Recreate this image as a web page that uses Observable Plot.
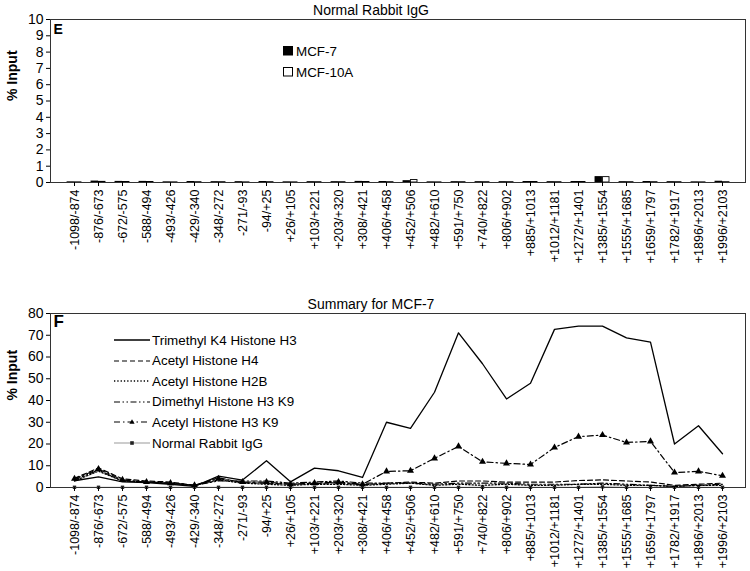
<!DOCTYPE html>
<html><head><meta charset="utf-8">
<script src="https://cdn.jsdelivr.net/npm/d3@7"></script>
<script src="https://cdn.jsdelivr.net/npm/@observablehq/plot@0.6"></script>
<style>
body{margin:0;background:#fff;font-family:"Liberation Sans",Arial,sans-serif;}
#wrap{position:relative;width:750px;height:571px;overflow:hidden;background:#fff;}
#wrap svg.plot{display:block;}
.lg{position:absolute;height:16px;display:flex;align-items:center;font-size:13.4px;color:#000;white-space:nowrap;}
.lg svg{display:block;margin-right:1px;}
</style></head><body><div id="wrap"></div>
<script>
// ---------- data ----------
const categories = ["-1098/-874","-876/-673","-672/-575","-588/-494","-493/-426","-429/-340","-348/-272","-271/-93","-94/+25","+26/+105","+103/+221","+203/+320","+308/+421","+406/+458","+452/+506","+482/+610","+591/+750","+740/+822","+806/+902","+885/+1013","+1012/+1181","+1272/+1401","+1385/+1554","+1555/+1685","+1659/+1797","+1782/+1917","+1896/+2013","+1996/+2103"];

// Panel E: Normal Rabbit IgG (% input)
const mcf7   = [0.01,0.06,0.04,0.04,0.01,0.03,0.02,0.02,0.03,0.01,0.02,0.02,0.04,0.03,0.08,0.01,0.02,0.02,0.02,0.03,0.02,0.03,0.33,0.02,0.03,0.02,0.01,0.05];
const mcf10a = [0.01,0.04,0.03,0.03,0.01,0.02,0.02,0.01,0.02,0.01,0.02,0.02,0.03,0.02,0.15,0.01,0.02,0.02,0.02,0.03,0.02,0.03,0.33,0.02,0.02,0.02,0.01,0.02];
const yTicksE = [0,1,2,3,4,5,6,7,8,9,10];

// Panel F: Summary for MCF-7 (% input)
const trimethylK4H3 = [3.1,4.9,2.6,2.3,1.5,0.5,5.2,3.4,12.3,2.6,8.9,7.7,4.6,30.0,27.2,43.8,71.1,56.9,40.7,47.9,72.7,74.2,74.2,68.8,66.8,20.0,28.4,15.5];
const acetylH4      = [4.2,9.0,4.0,3.0,2.5,1.0,4.5,2.2,2.0,1.5,1.8,2.2,1.2,2.0,2.5,2.0,3.0,3.0,2.5,2.5,2.5,3.2,3.5,3.0,2.5,1.0,1.5,2.0];
const acetylH2B     = [3.0,7.5,3.0,2.5,2.0,1.0,3.5,2.0,1.5,1.0,1.5,1.5,1.0,1.5,2.0,1.0,1.5,1.0,1.5,1.0,1.0,1.5,1.5,1.0,1.0,0.5,1.0,1.0];
const dimethylH3K9  = [3.5,8.0,3.0,2.5,2.0,1.0,3.0,3.0,3.0,2.0,2.5,3.0,2.0,2.0,2.0,1.5,2.0,2.0,2.0,1.5,1.5,1.5,2.0,1.5,1.0,0.5,1.0,1.5];
const acetylH3K9    = [4.0,8.5,3.5,2.5,2.0,1.0,4.0,2.5,2.5,1.5,2.0,2.5,1.5,7.4,7.7,13.4,18.9,11.8,11.1,10.6,18.4,23.4,24.1,20.7,21.2,6.9,7.4,5.4];
const normalIgG     = [0.1,0.1,0.1,0.1,0.1,0.1,0.1,0.1,0.1,0.1,0.1,0.1,0.1,0.1,0.1,0.1,0.1,0.1,0.1,0.1,0.1,0.1,0.3,0.1,0.1,0.1,0.1,0.1];
const yTicksF = [0,10,20,30,40,50,60,70,80];

const seriesNames = ["Trimethyl K4 Histone H3","Acetyl Histone H4","Acetyl Histone H2B","Dimethyl Histone H3 K9","Acetyl Histone H3 K9","Normal Rabbit IgG"];
const seriesValues = [trimethylK4H3, acetylH4, acetylH2B, dimethylH3K9, acetylH3K9, normalIgG];

// ---------- styles ----------
const FONT = "'Liberation Sans', Arial, Helvetica, sans-serif";
const seriesStyle = [
  {stroke:"#000", width:1.3, dash:null, symbol:null},
  {stroke:"#000", width:1.2, dash:"5,3", symbol:null},
  {stroke:"#000", width:1.3, dash:"1.3,2", symbol:null},
  {stroke:"#000", width:1.2, dash:"6,2.5,1.5,2.5,1.5,2.5", symbol:null},
  {stroke:"#000", width:1.2, dash:"6,3,1.5,3", symbol:"triangle"},
  {stroke:"#999", width:1, dash:null, symbol:"square"}
];

const wrap = document.getElementById("wrap");

// ---------- Panel E ----------
const barsE7  = categories.map((c,i) => ({cat:c, v:mcf7[i]}));
const barsE10 = categories.map((c,i) => ({cat:c, v:mcf10a[i]}));

const chartE = Plot.plot({
  width: 750, height: 270,
  marginLeft: 50, marginRight: 5, marginTop: 19, marginBottom: 88,
  style: {fontFamily: FONT, fontSize: "14px", color: "#000", background: "#fff", overflow: "visible"},
  x: {type: "band", domain: categories, padding: 0, axis: null},
  y: {domain: [0, 10], axis: null},
  marks: [
    Plot.barY(barsE7,  {x:"cat", y:"v", fill:"#000", stroke:"#000", strokeWidth:0.9, insetLeft:5, insetRight:12.4}),
    Plot.barY(barsE10, {x:"cat", y:"v", fill:"#fff", stroke:"#000", strokeWidth:0.9, insetLeft:12.4, insetRight:5}),
    Plot.frame({stroke:"#333", strokeWidth:1}),
    Plot.axisX({tickRotate:-90, fontSize:12.5, tickSize:4, tickPadding:3, label:null}),
    Plot.axisY({ticks:yTicksE, tickSize:4, tickPadding:3, fontSize:14, label:null}),
    Plot.text(["% Input"], {text:d=>d, frameAnchor:"left", dx:-38, rotate:-90, fontWeight:"bold", fontSize:14}),
    Plot.text(["Normal Rabbit IgG"], {text:d=>d, frameAnchor:"top", lineAnchor:"bottom", dy:-5, dx:-27, fontSize:14}),
    Plot.text(["E"], {text:d=>d, frameAnchor:"top-left", lineAnchor:"top", textAnchor:"start", dx:3, dy:5, fontWeight:"bold", fontSize:14})
  ]
});
chartE.classList.add("plot");
wrap.appendChild(chartE);

// ---------- Panel F ----------
const rowsF = categories.map((c,i) => {
  const r = {cat:c};
  seriesNames.forEach((n,k) => r[n] = seriesValues[k][i]);
  return r;
});

const order = [5,2,3,1,4,0]; // draw order
const marksF = [];
order.forEach(k => {
  const s = seriesStyle[k], n = seriesNames[k];
  marksF.push(Plot.line(rowsF, {x:"cat", y:n, stroke:s.stroke, strokeWidth:s.width, strokeDasharray:s.dash ?? undefined}));
  if (s.symbol === "triangle") marksF.push(Plot.dot(rowsF, {x:"cat", y:n, symbol:"triangle", r:2.6, fill:"#000", stroke:"none"}));
  if (s.symbol === "square") marksF.push(Plot.dot(rowsF, {x:"cat", y:n, symbol:"square", r:1.9, fill:"#222", stroke:"none"}));
});

const chartF = Plot.plot({
  width: 750, height: 301,
  marginLeft: 50, marginRight: 5, marginTop: 43, marginBottom: 84,
  style: {fontFamily: FONT, fontSize: "14px", color: "#000", background: "#fff", overflow: "visible"},
  x: {type: "point", domain: categories, padding: 0.5, axis: null},
  y: {domain: [0, 80], axis: null},
  marks: [
    ...marksF,
    Plot.frame({stroke:"#333", strokeWidth:1}),
    Plot.axisX({tickRotate:-90, fontSize:12.5, tickSize:4, tickPadding:3, label:null}),
    Plot.axisY({ticks:yTicksF, tickSize:4, tickPadding:3, fontSize:14, label:null}),
    Plot.text(["% Input"], {text:d=>d, frameAnchor:"left", dx:-38, rotate:-90, fontWeight:"bold", fontSize:14}),
    Plot.text(["Summary for MCF-7"], {text:d=>d, frameAnchor:"top", lineAnchor:"bottom", dy:-5, dx:-27, fontSize:14}),
    Plot.text(["F"], {text:d=>d, frameAnchor:"top-left", lineAnchor:"top", textAnchor:"start", dx:3, dy:1, fontWeight:"bold", fontSize:17})
  ]
});
chartF.classList.add("plot");
wrap.appendChild(chartF);

// ---------- Legends ----------
function addLegend(left, top, swatch, label) {
  const d = document.createElement("div");
  d.className = "lg";
  d.style.left = left + "px";
  d.style.top = top + "px";
  d.innerHTML = swatch + "<span>" + label + "</span>";
  wrap.appendChild(d);
}
// Panel E legend
addLegend(283, 43, '<svg width="12" height="10"><rect x="0.5" y="0.5" width="9" height="8.5" fill="#000" stroke="#000"/></svg>', "MCF-7");
addLegend(283, 64, '<svg width="12" height="10"><rect x="0.5" y="0.5" width="9" height="8.5" fill="#fff" stroke="#000"/></svg>', "MCF-10A");
// Panel F legend
seriesNames.forEach((n,k) => {
  const s = seriesStyle[k];
  let sw = '<svg width="37" height="10"><line x1="0" x2="36" y1="5" y2="5" stroke="'+s.stroke+'" stroke-width="'+s.width+'"'+(s.dash?' stroke-dasharray="'+s.dash+'"':'')+'/>';
  if (s.symbol === "triangle") sw += '<path d="M18,2.2L20.6,6.8L15.4,6.8Z" fill="#000"/>';
  if (s.symbol === "square") sw += '<rect x="16.2" y="3.2" width="3.6" height="3.6" fill="#222"/>';
  sw += '</svg>';
  addLegend(114, 332 + 20.6*k, sw, n);
});
</script></body></html>
